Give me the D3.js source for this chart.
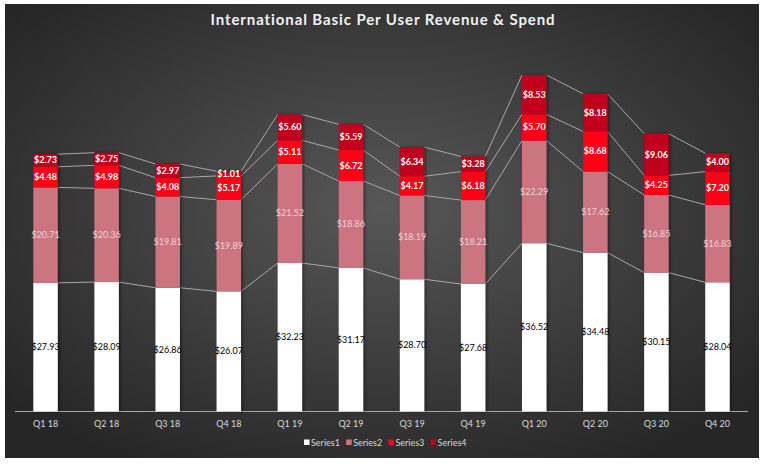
<!DOCTYPE html>
<html><head><meta charset="utf-8">
<script src="https://cdn.jsdelivr.net/npm/d3@7"></script>
<style>html,body{margin:0;padding:0;background:#fff;}svg{display:block;}</style>
</head><body>
<svg id="c" width="767" height="464"></svg>
<script>
const categories = ["Q1 18","Q2 18","Q3 18","Q4 18","Q1 19","Q2 19","Q3 19","Q4 19","Q1 20","Q2 20","Q3 20","Q4 20"];
const series1 = [27.93,28.09,26.86,26.07,32.23,31.17,28.70,27.68,36.52,34.48,30.15,28.04];
const series2 = [20.71,20.36,19.81,19.89,21.52,18.86,18.19,18.21,22.29,17.62,16.85,16.83];
const series3 = [4.48,4.98,4.08,5.17,5.11,6.72,4.17,6.18,5.70,8.68,4.25,7.20];
const series4 = [2.73,2.75,2.97,1.01,5.60,5.59,6.34,3.28,8.53,8.18,9.06,4.00];
const seriesNames = ["Series1","Series2","Series3","Series4"];
const seriesColors = ["#ffffff","#cc7581","#ff0019","#c0001a"];
const labelColors = ["#000000","#ecd3d6","#ffffff","#ffffff"];
const title = "International Basic Per User Revenue & Spend";

const svg = d3.select("#c");
const defs = svg.append("defs");
const rg = defs.append("radialGradient").attr("id","bg").attr("cx","50%").attr("cy","45%").attr("r","65%");
rg.append("stop").attr("offset","0%").attr("stop-color","#575757");
rg.append("stop").attr("offset","100%").attr("stop-color","#262626");
const f = defs.append("filter").attr("id","sh").attr("x","-30%").attr("y","-10%").attr("width","160%").attr("height","120%");
f.append("feDropShadow").attr("dx",1.5).attr("dy",0).attr("stdDeviation",1.6).attr("flood-color","#000").attr("flood-opacity",0.45);

svg.append("rect").attr("x",5).attr("y",4).attr("width",754).attr("height",454).attr("fill","url(#bg)");

svg.append("text").attr("x",383).attr("y",25).attr("text-anchor","middle")
  .attr("font-family","Lato, 'Open Sans', sans-serif").attr("font-weight","bold")
  .attr("font-size",15).attr("letter-spacing",0.9).attr("fill","#f2f2f2").text(title);

const x = d3.scaleBand().domain(categories).range([15,748]).paddingInner(0.6).paddingOuter(0.3);
const y = d3.scaleLinear().domain([0,80]).range([411.5, 411.5-80*4.607]);

const table = categories.map((c,i)=>({cat:c, Series1:series1[i], Series2:series2[i], Series3:series3[i], Series4:series4[i]}));
const stacked = d3.stack().keys(seriesNames)(table);
const bw = x.bandwidth();

// connector lines
const conn = svg.append("g").attr("stroke","#a8a8a8").attr("stroke-width",1).attr("fill","none");
stacked.forEach(s=>{
  for(let i=0;i<s.length-1;i++){
    conn.append("line")
      .attr("x1",x(categories[i])+bw).attr("y1",y(s[i][1]))
      .attr("x2",x(categories[i+1])).attr("y2",y(s[i+1][1]));
  }
});

// axis line
svg.append("line").attr("x1",15).attr("x2",748).attr("y1",y(0)).attr("y2",y(0)).attr("stroke","#a6a6a6").attr("stroke-width",1);

const barsG = svg.append("g");
table.forEach((d,i)=>{
  const g = barsG.append("g").attr("filter","url(#sh)");
  stacked.forEach((s,k)=>{
    g.append("rect").attr("x",x(d.cat)).attr("width",bw)
      .attr("y",y(s[i][1])).attr("height",y(s[i][0])-y(s[i][1]))
      .attr("fill",seriesColors[k]);
  });
});
const lab = svg.append("g").attr("font-family","Lato, 'Open Sans', sans-serif").attr("text-anchor","middle");
stacked.forEach((s,k)=>{
  s.forEach((v,i)=>{
    lab.append("text").attr("x",x(categories[i])+bw/2).attr("y",(y(v[0])+y(v[1]))/2+3)
      .attr("font-size",9).attr("font-weight",k>=2?"bold":"normal")
      .attr("fill",labelColors[k]).text("$"+(v[1]-v[0]).toFixed(2));
  });
});

// x axis labels
const ax = svg.append("g").attr("transform",`translate(0,${y(0)})`)
  .call(d3.axisBottom(x).tickSize(0).tickPadding(9));
ax.select(".domain").remove();
ax.selectAll("text").attr("font-family","Lato, 'Open Sans', sans-serif").attr("font-size",9).attr("fill","#d9d9d9");

// legend
const lg = svg.append("g").attr("font-family","Lato, 'Open Sans', sans-serif").attr("font-size",9);
seriesNames.forEach((n,k)=>{
  const lx = 304 + k*42.2;
  lg.append("rect").attr("x",lx).attr("y",439.5).attr("width",5.5).attr("height",5.5).attr("fill",seriesColors[k]);
  lg.append("text").attr("x",lx+7).attr("y",445.5).attr("fill","#d9d9d9").text(n);
});
</script>
</body></html>
